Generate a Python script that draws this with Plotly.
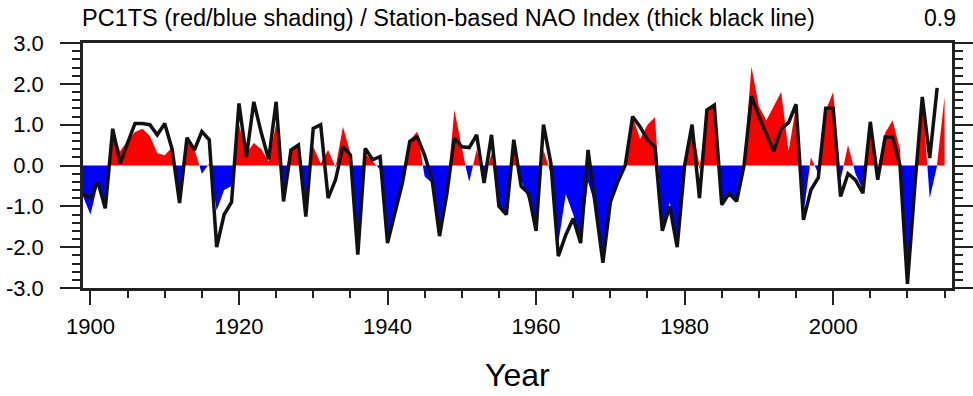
import plotly.graph_objects as go

# ---- data ----
pc1_start = 1899
pc1 = [-0.75, -1.2, -0.45, -0.85, 0.85, 0.35, 0.6, 0.82, 0.9, 0.72,
       0.3, 0.25, 0.45, -0.8, 0.65, 0.4, -0.2, 0.05, -1.1, -0.6,
       -0.5, 1.0, 0.3, 0.55, 0.4, 0.1, 1.03, -0.75, 0.38, 0.45,
       -1.0, 0.46, 0.05, 0.38, -0.05, 0.95, 0.3, -1.9, 0.3, 0.1,
       -0.1, -1.9, -1.1, -0.45, 0.62, 0.83, -0.27, -0.43, -1.73, -0.65,
       1.36, 0.38, -0.4, 0.38, -0.4, 0.3, -1.0, -1.2, 0.46, -0.35,
       -0.85, -1.6, 0.38, -0.2, -1.9, -0.7, -1.2, -1.9, -0.4, -1.0,
       -2.3, -0.9, -0.3, 0.05, 1.2, 0.65, 1.0, 1.18, -1.5, -0.9,
       -1.9, -0.05, 1.0, -0.1, 1.36, 1.45, -0.95, -0.65, -0.85, 0.1,
       2.42, 1.45, 1.1, 1.45, 1.8, 0.35, 1.45, -1.2, 0.2, -0.2,
       1.35, 1.8, -0.35, 0.5, -0.2, -0.6, 1.07, -0.1, 0.8, 1.1,
       0.4, -2.9, -0.4, 1.7, -0.8, 0.05, 1.68]

nao_start = 1899
nao = [-0.7, -0.8, -0.4, -1.05, 0.9, 0.05, 0.55, 1.03, 1.03, 1.0,
       0.75, 1.03, 0.4, -0.92, 0.68, 0.38, 0.83, 0.63, -2.0, -1.2,
       -0.9, 1.52, 0.2, 1.56, 0.8, 0.15, 1.56, -0.88, 0.38, 0.5,
       -1.25, 0.91, 1.0, -0.8, -0.35, 0.46, 0.26, -2.18, 0.42, 0.14,
       0.22, -1.9, -1.16, -0.43, 0.59, 0.7, 0.25, -0.35, -1.73, -0.68,
       0.67, 0.46, 0.44, 0.75, -0.43, 0.75, -1.0, -1.2, 0.63, -0.51,
       -0.68, -1.6, 1.0, 0.05, -2.22, -1.7, -1.3, -1.9, 0.38, -1.0,
       -2.38, -0.9, -0.4, 0.0, 1.2, 0.95, 0.63, 0.45, -1.6, -1.0,
       -2.0, 0.0, 1.0, -0.8, 1.36, 1.48, -0.96, -0.68, -0.88, 0.0,
       1.7, 1.2, 0.8, 0.35, 0.9, 1.05, 1.5, -1.33, -0.6, -0.3,
       1.4, 1.4, -0.76, -0.2, -0.35, -0.68, 1.07, -0.35, 0.7, 0.7,
       0.0, -2.9, -0.5, 1.68, 0.18, 1.9]

pc1_years = list(range(pc1_start, pc1_start + len(pc1)))
nao_years = list(range(nao_start, nao_start + len(nao)))

title_text = "PC1TS (red/blue shading) / Station-based NAO Index (thick black line)"
corr_text = "0.9"
x_title = "Year"
x_ticks = [1900, 1920, 1940, 1960, 1980, 2000]
y_ticks = [-3.0, -2.0, -1.0, 0.0, 1.0, 2.0, 3.0]

# ---- split PC1 into positive / negative parts with zero crossings ----
xs, ys = [], []
for i in range(len(pc1)):
    if i > 0:
        a, b = pc1[i - 1], pc1[i]
        if (a > 0 and b < 0) or (a < 0 and b > 0):
            xc = pc1_years[i - 1] + a / (a - b)
            xs.append(xc)
            ys.append(0.0)
    xs.append(pc1_years[i])
    ys.append(pc1[i])

pos = [max(v, 0.0) for v in ys]
neg = [min(v, 0.0) for v in ys]

FONT = "Liberation Sans, Arial, Helvetica, sans-serif"
AX = "#222222"

fig = go.Figure()
fig.add_trace(go.Scatter(x=xs, y=pos, mode="lines", fill="tozeroy",
                         fillcolor="#ff0000", line=dict(width=0, color="#ff0000"),
                         hoverinfo="skip", showlegend=False))
fig.add_trace(go.Scatter(x=xs, y=neg, mode="lines", fill="tozeroy",
                         fillcolor="#0000ff", line=dict(width=0, color="#0000ff"),
                         hoverinfo="skip", showlegend=False))
fig.add_trace(go.Scatter(x=nao_years, y=nao, mode="lines",
                         line=dict(width=3.5, color="#111111"),
                         showlegend=False))

fig.update_layout(
    width=973, height=396,
    margin=dict(l=83, r=21, t=43, b=108, autoexpand=False),
    paper_bgcolor="white", plot_bgcolor="white",
    font=dict(family=FONT, color="black"),
    showlegend=False,
)
fig.update_xaxes(
    range=[1899, 2016], tickvals=x_ticks, ticktext=[str(v) for v in x_ticks],
    ticks="outside", ticklen=14, tickwidth=2, tickcolor=AX,
    minor=dict(dtick=5, tick0=1900, ticks="outside", ticklen=7, tickwidth=1.5, tickcolor=AX),
    showline=True, linewidth=2.5, linecolor=AX, mirror=True,
    showgrid=False, zeroline=False, automargin=False,
    tickfont=dict(size=22, family=FONT), ticklabelstandoff=3,
)
fig.update_yaxes(
    range=[-3, 3], tickvals=y_ticks, ticktext=[f"{v:.1f}" for v in y_ticks],
    ticks="outside", ticklen=20, tickwidth=2, tickcolor=AX,
    minor=dict(dtick=0.2, tick0=0, ticks="outside", ticklen=8, tickwidth=1.5, tickcolor=AX),
    showline=True, linewidth=2.5, linecolor=AX, mirror="allticks",
    showgrid=False, zeroline=False, automargin=False,
    tickfont=dict(size=22, family=FONT), ticklabelstandoff=12,
)
fig.add_annotation(text=title_text, xref="paper", yref="paper", x=-0.003, y=1.102,
                   xanchor="left", yanchor="middle", showarrow=False,
                   font=dict(size=23.5, family=FONT, color="black"))
fig.add_annotation(text=corr_text, xref="paper", yref="paper", x=1.007, y=1.102,
                   xanchor="right", yanchor="middle", showarrow=False,
                   font=dict(size=23, family=FONT, color="black"))
fig.add_annotation(text=x_title, xref="paper", yref="paper", x=0.5, y=-0.355,
                   xanchor="center", yanchor="middle", showarrow=False,
                   font=dict(size=32, family=FONT, color="black"))

fig.write_html("out.html")
